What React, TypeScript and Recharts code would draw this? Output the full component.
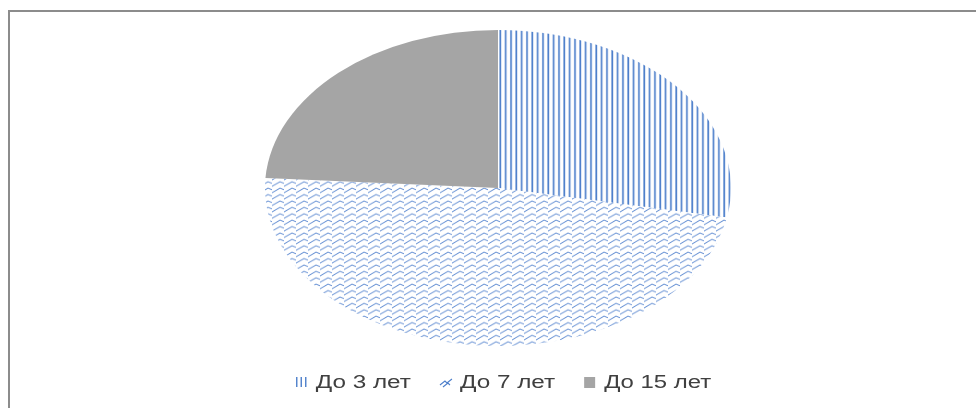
import { Legend, Pie, PieChart } from "recharts"

const CATEGORIES = ["До 3 лет", "До 7 лет", "До 15 лет"]
const SHARES = [28, 48, 24]
const FILLS = ["url(#vlines)", "url(#zigzag)", "#A5A5A5"]

const data = CATEGORIES.map((name, i) => ({ name, value: SHARES[i], fill: FILLS[i] }))

const BLUE = "#4d7fcb"
const Y_RATIO = 158 / 233

// Excel stretched the pie, so draw each sector as part of an ellipse
function EllipseSector(props: any) {
  const { cx, cy, outerRadius, startAngle, endAngle, fill } = props
  const rad = Math.PI / 180
  const ry = outerRadius * Y_RATIO
  const x1 = cx + outerRadius * Math.cos(startAngle * rad)
  const y1 = cy - ry * Math.sin(startAngle * rad)
  const x2 = cx + outerRadius * Math.cos(endAngle * rad)
  const y2 = cy - ry * Math.sin(endAngle * rad)
  const large = Math.abs(endAngle - startAngle) > 180 ? 1 : 0
  const sweep = startAngle > endAngle ? 1 : 0
  return (
    <path
      d={`M${cx},${cy}L${x1},${y1}A${outerRadius},${ry} 0 ${large} ${sweep} ${x2},${y2}Z`}
      fill={fill}
    />
  )
}

function Marker({ i }: { i: number }) {
  if (i === 0)
    return (
      <g stroke={BLUE} strokeWidth={1.4}>
        <line x1={1} x2={1} y1={0} y2={10} />
        <line x1={5.5} x2={5.5} y1={0} y2={10} />
        <line x1={10} x2={10} y1={0} y2={10} />
      </g>
    )
  if (i === 1)
    return (
      <path d="M0,8 L5,4 L7,6 L12,2 M3,10 L8,6 L10,8" stroke={BLUE} strokeWidth={1.1} fill="none" />
    )
  return <rect x={0} y={0} width={11} height={11} fill="#A5A5A5" />
}

function LegendContent() {
  const charW = 11.9
  const items = CATEGORIES.map((c) => ({ label: c, w: c.length * charW }))
  const total = items.reduce((s, it) => s + 12 + 9 + it.w, 0) + 28 * (items.length - 1)
  let x = 490 + 6 - total / 2
  return (
    <svg width={960} height={40}>
      {items.map((it, i) => {
        const mx = x
        x += 12 + 9 + it.w + 28
        return (
          <g key={it.label}>
            <g transform={`translate(${mx},${11})`}>
              <Marker i={i} />
            </g>
            <text
              x={mx + 20}
              y={22}
              textLength={it.w}
              lengthAdjust="spacingAndGlyphs"
              fontFamily="'Liberation Sans', Arial, sans-serif"
              fontSize={17.5}
              fill="#404040"
            >
              {it.label}
            </text>
          </g>
        )
      })}
    </svg>
  )
}

export default function App() {
  return (
    <div style={{ position: "relative", width: 960, height: 392 }}>
      <div
        style={{
          position: "fixed",
          left: 8,
          top: 10,
          width: 970,
          height: 400,
          borderTop: "2px solid #8c8c8c",
          borderLeft: "2px solid #8c8c8c",
          pointerEvents: "none",
        }}
      />
      <PieChart width={960} height={392}>
        <defs>
          <pattern id="vlines" patternUnits="userSpaceOnUse" width={5.33} height={10}>
            <rect width={5.33} height={10} fill="#fff" />
            <line x1={2} x2={2} y1={0} y2={10} stroke={BLUE} strokeWidth={1.7} />
          </pattern>
          <pattern id="zigzag" patternUnits="userSpaceOnUse" width={12} height={6.4}>
            <rect width={12} height={6.4} fill="#fff" />
            <path
              d="M0,5.6 L8,1 L12,2.6 M-4,7.8 L0,5.6"
              stroke="#6590d4"
              strokeWidth={1}
              fill="none"
            />
          </pattern>
        </defs>
        <Pie
          data={data}
          dataKey="value"
          nameKey="name"
          cx={485}
          cy={175}
          outerRadius={233}
          startAngle={90}
          endAngle={-270}
          stroke="none"
          shape={EllipseSector}
          isAnimationActive={false}
        />
        <Legend
          content={<LegendContent />}
          wrapperStyle={{ left: 0, top: 358, width: 960, height: 40 }}
        />
      </PieChart>
    </div>
  )
}
